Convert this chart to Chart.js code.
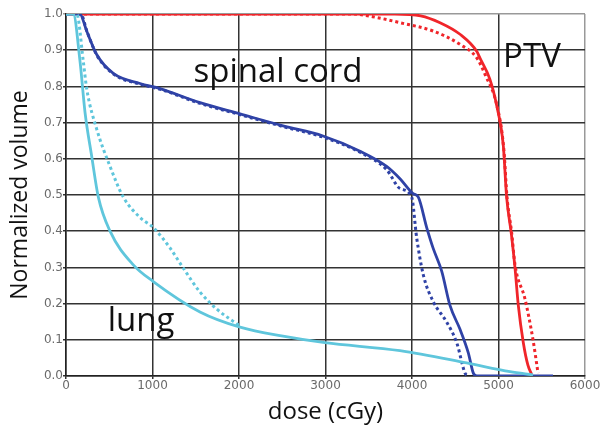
<!DOCTYPE html>
<html>
<head>
<meta charset="utf-8">
<script src="https://cdn.jsdelivr.net/npm/chart.js@4/dist/chart.umd.min.js"></script>
<style>
  html, body { margin: 0; padding: 0; background: #fff; }
  #wrap { width: 602px; height: 427px; position: relative; }
</style>
</head>
<body>
<div id="wrap"><canvas id="dvh"></canvas></div>
<script>
// dose (cGy) / normalized volume
const ptvDose      = [0, 3800, 4100, 4324, 4555, 4748, 4786, 4900, 4979, 5056, 5094, 5150, 5191, 5229, 5287, 5340, 5383];
const ptvVol       = [1, 1, 0.995, 0.976, 0.944, 0.897, 0.878, 0.82, 0.747, 0.635, 0.494, 0.39, 0.298, 0.195, 0.092, 0.03, 0.005];
const ptvDotDose   = [0, 3300, 3600, 3861, 4243, 4555, 4748, 4850, 4979, 5060, 5100, 5150, 5191, 5306, 5399, 5457];
const ptvDotVol    = [1, 1, 0.99, 0.976, 0.953, 0.916, 0.879, 0.83, 0.75, 0.63, 0.49, 0.40, 0.307, 0.213, 0.1, 0.008];

const cordDose     = [0, 160, 239, 355, 547, 855, 1087, 1549, 2012, 2509, 2971, 3399, 3707, 3861, 4012, 4073, 4170, 4243, 4344, 4439, 4555, 4651, 4709, 4750, 5630];
const cordVol      = [1, 1, 0.953, 0.888, 0.836, 0.808, 0.794, 0.755, 0.724, 0.691, 0.663, 0.621, 0.579, 0.545, 0.504, 0.494, 0.41, 0.354, 0.289, 0.195, 0.129, 0.064, 0.008, 0, 0];
const cordDotDose  = [0, 170, 245, 360, 550, 860, 1090, 1550, 2010, 2510, 2970, 3400, 3707, 3861, 3996, 4054, 4131, 4247, 4401, 4517, 4613, 4650];
const cordDotVol   = [1, 1, 0.95, 0.885, 0.834, 0.806, 0.792, 0.753, 0.722, 0.689, 0.66, 0.618, 0.57, 0.518, 0.494, 0.382, 0.279, 0.205, 0.149, 0.092, 0.008, 0];

const lungDose     = [0, 84, 162, 220, 297, 374, 509, 778, 1009, 1549, 2012, 2509, 2994, 3861, 4632, 5133, 5399];
const lungVol      = [1, 1, 0.869, 0.728, 0.607, 0.494, 0.4, 0.307, 0.261, 0.177, 0.135, 0.11, 0.092, 0.07, 0.036, 0.012, 0.003];
const lungDotDose  = [0, 124, 200, 239, 355, 509, 663, 855, 1009, 1202, 1356, 1549, 1742, 2012];
const lungDotVol   = [1, 1, 0.869, 0.794, 0.682, 0.579, 0.494, 0.438, 0.41, 0.354, 0.298, 0.232, 0.185, 0.138];

const xTicks = [0, 1000, 2000, 3000, 4000, 5000, 6000];
const yTicks = [0, 0.1, 0.2, 0.3, 0.4, 0.5, 0.6, 0.7, 0.8, 0.9, 1.0];

const labels = [
  { text: "spinal cord", x: 2451, y: 0.838 },
  { text: "PTV", x: 5387, y: 0.88 },
  { text: "lung", x: 867, y: 0.15 }
];

const RED = "#f0252a", BLUE = "#2f42a6", CYAN = "#5fc6dc";

function pts(xs, ys) {
  return xs.map((x, i) => ({ x: x, y: ys[i] }));
}

function series(xs, ys, color, dotted) {
  return {
    data: pts(xs, ys),
    borderColor: color,
    borderWidth: dotted ? 3 : 2.8,
    borderDash: dotted ? [3, 3] : [],
    pointRadius: 0,
    showLine: true,
    fill: false,
    cubicInterpolationMode: "monotone"
  };
}

const textPlugin = {
  id: "curveLabels",
  afterDatasetsDraw(chart) {
    const c = chart.ctx, xs = chart.scales.x, ys = chart.scales.y;
    c.save();
    c.fillStyle = "#111";
    c.font = "33px 'Open Sans', sans-serif";
    c.textAlign = "center";
    c.textBaseline = "middle";
    labels.forEach(l => c.fillText(l.text, xs.getPixelForValue(l.x), ys.getPixelForValue(l.y)));
    c.restore();
  }
};

new Chart(document.getElementById("dvh"), {
  type: "scatter",
  data: {
    datasets: [
      series(lungDose, lungVol, CYAN, false),
      series(lungDotDose, lungDotVol, CYAN, true),
      series(cordDose, cordVol, BLUE, false),
      series(cordDotDose, cordDotVol, BLUE, true),
      series(ptvDose, ptvVol, RED, false),
      series(ptvDotDose, ptvDotVol, RED, true)
    ]
  },
  options: {
    responsive: true,
    maintainAspectRatio: false,
    animation: false,
    layout: { padding: { top: 14, right: 17, left: 0, bottom: 0 } },
    plugins: { legend: { display: false }, tooltip: { enabled: false } },
    scales: {
      x: {
        type: "linear",
        min: 0, max: 6000,
        afterBuildTicks: s => { s.ticks = xTicks.map(v => ({ value: v })); },
        afterFit: s => { s.height = 51; },
        ticks: { color: "#6a6a6a", font: { family: "DejaVu Sans", size: 12 }, padding: 0, maxRotation: 0, callback: v => String(v) },
        grid: {
          color: c => c.tick && c.tick.value === 6000 ? "#999" : "#333",
          lineWidth: 1.5, tickLength: 3
        },
        border: { color: "#222", width: 1.5 },
        title: { display: true, text: "dose (cGy)", color: "#111", font: { family: "Open Sans", size: 24 }, padding: { top: 0, bottom: 0 } }
      },
      y: {
        min: 0, max: 1,
        afterBuildTicks: s => { s.ticks = yTicks.map(v => ({ value: v })); },
        afterFit: s => { s.width = 66; },
        ticks: { color: "#6a6a6a", font: { family: "DejaVu Sans", size: 12 }, padding: 0, callback: v => v.toFixed(1) },
        grid: {
          color: c => c.tick && c.tick.value === 1 ? "#999" : "#333",
          lineWidth: 1.5, tickLength: 3
        },
        border: { color: "#222", width: 1.5 },
        title: { display: true, text: "Normalized volume", color: "#111", font: { family: "Open Sans", size: 23 }, padding: { top: 7, bottom: 0 } }
      }
    }
  },
  plugins: [textPlugin]
});
</script>
</body>
</html>
